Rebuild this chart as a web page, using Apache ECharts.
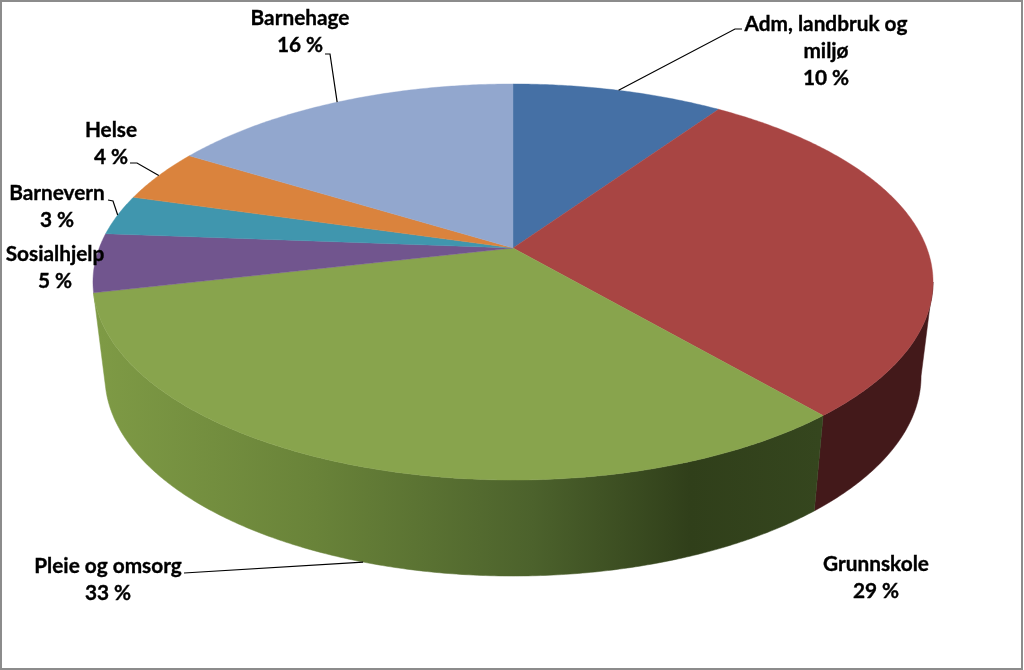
<!DOCTYPE html>
<html>
<head>
<meta charset="utf-8">
<style>html,body{margin:0;padding:0;background:#fff}#c{width:1024px;height:670px}</style>
<script src="https://cdn.jsdelivr.net/npm/echarts@6/dist/echarts.min.js"></script>
</head>
<body>
<div id="c"></div>
<script>
// --- data ---
const categories = ['Adm, landbruk og miljø', 'Grunnskole', 'Pleie og omsorg', 'Sosialhjelp', 'Barnevern', 'Helse', 'Barnehage'];
const shares = [9.6, 29.1, 32.7, 4.8, 3.25, 4.3, 16.25];

// --- styles and layout ---
const topColors = ['#4570A5', '#A84543', '#88A44D', '#71558E', '#4096AE', '#DA833D', '#92A7CE'];
const sideFill = {
  1: '#43191A',
  2: { type: 'linear', global: true, x: 100, y: 0, x2: 820, y2: 0, colorStops: [
    { offset: 0, color: '#7E9A45' }, { offset: 0.3, color: '#698339' },
    { offset: 0.6, color: '#4C622C' }, { offset: 0.82, color: '#303F1A' }, { offset: 1, color: '#35461E' } ] }
};
const labelLayout = {
  'Adm, landbruk og miljø': { x: 826, y: 51, lines: ['Adm, landbruk og', 'miljø'], elbow: [[735, 29], [742, 29]] },
  'Grunnskole': { x: 876, y: 578, lines: ['Grunnskole'] },
  'Pleie og omsorg': { x: 108, y: 580, lines: ['Pleie og omsorg'], elbow: [[184, 573]], rim: 'bottom' },
  'Sosialhjelp': { x: 55, y: 268, lines: ['Sosialhjelp'] },
  'Barnevern': { x: 57, y: 207, lines: ['Barnevern'], elbow: [[113, 201], [108, 200]] },
  'Helse': { x: 111, y: 144, lines: ['Helse'], elbow: [[137, 163], [130, 163]] },
  'Barnehage': { x: 300, y: 32, lines: ['Barnehage'], elbow: [[330, 54], [325, 54]] }
};
const FONT = 'bold 20.8px Lato, "Open Sans", sans-serif';
const LINE_H = 27;

// Perspective projection of the unit disc on to the screen.
const K = 0.1717;
const topRim = { cx: 513, y0: 248, a: 413.8, b: 192.2 };
const bottomRim = { cx: 513, y0: 341.7, a: 402, b: 194.1 };
function project(rim, deg) {
  const t = deg * Math.PI / 180, u = Math.sin(t), v = Math.cos(t), w = 1 + K * v;
  return [rim.cx + rim.a * u / w, rim.y0 - rim.b * v / w];
}
function arc(rim, from, to) {
  const pts = [], n = Math.max(2, Math.ceil(Math.abs(to - from) * 2));
  for (let i = 0; i <= n; i++) pts.push(project(rim, from + (to - from) * i / n));
  return pts;
}
const total = shares.reduce((a, b) => a + b, 0);
const rows = [];
shares.reduce((cum, v, i) => { rows.push({ name: categories[i], value: [v, cum, i] }); return cum + v; }, 0);
const toDeg = v => v / total * 360;
// visible side wall starts at the silhouette tangent
const sideFrom = Math.acos(-K) * 180 / Math.PI;

function renderSide(params, api) {
  const cum = api.value(1), v = api.value(0), idx = api.value(2);
  const fill = sideFill[idx];
  if (!fill) return null;
  const from = Math.max(toDeg(cum), sideFrom), to = toDeg(cum + v);
  const pts = arc(topRim, from, to).concat(arc(bottomRim, to, from));
  return { type: 'polygon', shape: { points: pts }, style: { fill: fill, stroke: fill, lineWidth: 0.5 } };
}
function renderTop(params, api) {
  const cum = api.value(1), v = api.value(0), idx = api.value(2);
  const pts = [[topRim.cx, topRim.y0]].concat(arc(topRim, toDeg(cum), toDeg(cum + v)));
  return { type: 'polygon', shape: { points: pts }, style: { fill: topColors[idx], stroke: topColors[idx], lineWidth: 0.4 } };
}
function renderLabel(params, api) {
  const cum = api.value(1), v = api.value(0);
  const name = categories[params.dataIndex], lay = labelLayout[name];
  const children = [];
  if (lay.elbow) {
    const start = project(lay.rim === 'bottom' ? bottomRim : topRim, toDeg(cum + v / 2));
    children.push({ type: 'polyline', shape: { points: [start].concat(lay.elbow) },
      style: { fill: null, stroke: '#000', lineWidth: 1.2 } });
  }
  const lines = lay.lines.concat([Math.round(v / total * 100) + ' %']);
  lines.forEach((s, i) => {
    children.push({ type: 'text', style: { text: s, x: lay.x, y: lay.y + (i - (lines.length - 1) / 2) * LINE_H,
      align: 'center', verticalAlign: 'middle', font: FONT, fill: '#000', stroke: '#000', lineWidth: 0.35 } });
  });
  return { type: 'group', children: children };
}

const chart = echarts.init(document.getElementById('c'), null, { renderer: 'canvas' });
chart.setOption({
  animation: false,
  backgroundColor: '#fff',
  graphic: [{ type: 'rect', z: 100, shape: { x: 1, y: 1, width: 1021, height: 668 }, style: { fill: null, stroke: '#8C8C8C', lineWidth: 2 } }],
  series: [
    { type: 'custom', name: 'side', coordinateSystem: 'none', renderItem: renderSide, data: rows, silent: true, z: 1 },
    { type: 'custom', name: 'top', coordinateSystem: 'none', renderItem: renderTop, data: rows, silent: true, z: 2 },
    { type: 'custom', name: 'labels', coordinateSystem: 'none', renderItem: renderLabel, data: rows, silent: true, z: 3 }
  ]
});
</script>
</body>
</html>
